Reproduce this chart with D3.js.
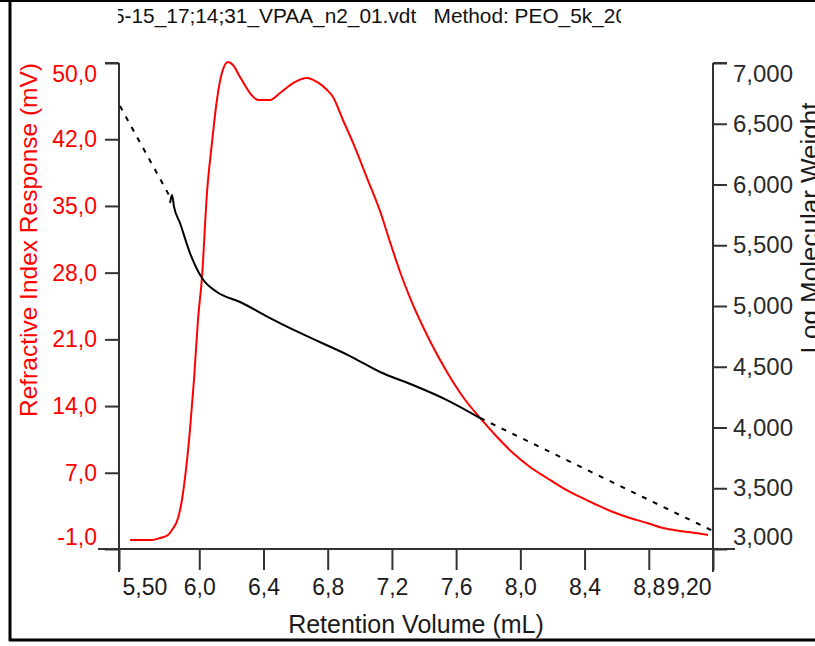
<!DOCTYPE html>
<html>
<head>
<meta charset="utf-8">
<script src="https://cdn.jsdelivr.net/npm/d3@7"></script>
<style>
  html, body { margin: 0; padding: 0; background: #fff; }
  svg { display: block; }
  text { font-family: "Liberation Sans", Arial, sans-serif; }
</style>
</head>
<body>
<div id="chart"></div>
<script>
// refractive index trace (mL, mV)
var riVolume = [5.569, 5.706, 5.755, 5.805, 5.830, 5.868, 5.892, 5.917, 5.942, 5.967, 5.992, 6.017, 6.048, 6.079, 6.110, 6.141,
	6.179, 6.210, 6.254, 6.316, 6.366, 6.441, 6.503, 6.584, 6.671, 6.733, 6.796, 6.833, 6.895, 6.958, 7.045, 7.126,
	7.188, 7.251, 7.313, 7.437, 7.543, 7.643, 7.749, 7.855, 7.954, 8.060, 8.166, 8.266, 8.372, 8.477, 8.577, 8.683,
	8.789, 8.889, 8.994, 9.088, 9.169];
var riResponse = [-0.06, -0.06, 0.15, 0.47, 0.99, 2.25, 4.14, 7.29, 11.49, 16.73, 23.03, 27.54, 36.36, 41.61, 46.12, 48.95,
	50.11, 49.79, 48.53, 46.85, 46.12, 46.12, 46.85, 47.90, 48.43, 48.01, 47.17, 46.43, 44.02, 41.61, 37.93, 34.47,
	31.22, 28.07, 25.34, 20.83, 17.58, 14.95, 12.75, 10.75, 9.07, 7.61, 6.45, 5.40, 4.46, 3.62, 2.88, 2.25,
	1.73, 1.20, 0.89, 0.68, 0.47];

// log molecular weight over the peak
var mwVolume = [5.818, 5.830, 5.843, 5.880, 5.942, 6.017, 6.110, 6.254, 6.441, 6.628, 6.939, 7.126, 7.331, 7.543, 7.749];
var mwLog = [5.848, 5.914, 5.815, 5.683, 5.436, 5.230, 5.115, 5.033, 4.901, 4.778, 4.588, 4.457, 4.350, 4.226, 4.078];

// calibration line outside the slice limits (dashed)
var calHighVolume = [5.506, 5.818];
var calHighLog = [6.646, 5.897];
var calLowVolume = [7.749, 9.200];
var calLowLog = [4.078, 3.148];

var riTicks = [-1, 7, 14, 21, 28, 35, 42, 50];
var riTickLabels = ["-1,0", "7,0", "14,0", "21,0", "28,0", "35,0", "42,0", "50,0"];
var mwTicks = [3, 3.5, 4, 4.5, 5, 5.5, 6, 6.5, 7];
var mwTickLabels = ["3,000", "3,500", "4,000", "4,500", "5,000", "5,500", "6,000", "6,500", "7,000"];
var volumeTicks = [5.5, 6.0, 6.4, 6.8, 7.2, 7.6, 8.0, 8.4, 8.8, 9.2];
var volumeTickLabels = ["5,50", "6,0", "6,4", "6,8", "7,2", "7,6", "8,0", "8,4", "8,8", "9,20"];

var titleText = "5-15_17;14;31_VPAA_n2_01.vdt   Method: PEO_5k_20";

var width = 815, height = 646;
var plotLeft = 119, plotRight = 713, plotTop = 63, plotBottom = 549;
var axisColor = "#333";
var fontSize = 23;

var svg = d3.select("#chart").append("svg")
	.attr("width", width)
	.attr("height", height);

var x = d3.scaleLinear().domain([5.5, 9.2]).range([plotLeft, plotRight]);
var yRi = d3.scaleLinear().domain([-1, 50]).range([plotBottom, plotTop]);
var yMw = d3.scaleLinear().domain([3, 7]).range([plotBottom, plotTop]);

// frame
svg.append("line").attr("x1", 0).attr("x2", width).attr("y1", 1).attr("y2", 1)
	.attr("stroke", "#000").attr("stroke-width", 2);
svg.append("line").attr("x1", 10).attr("x2", 10).attr("y1", 0).attr("y2", 641)
	.attr("stroke", "#000").attr("stroke-width", 3);
svg.append("line").attr("x1", 9).attr("x2", width).attr("y1", 640).attr("y2", 640)
	.attr("stroke", "#000").attr("stroke-width", 3);

// title, clipped like the original
svg.append("clipPath").attr("id", "titleClip")
	.append("rect").attr("x", 118).attr("y", 0).attr("width", 503).attr("height", 40);
svg.append("text")
	.attr("clip-path", "url(#titleClip)")
	.attr("x", 113)
	.attr("y", 23)
	.attr("font-size", 21)
	.attr("textLength", 514)
	.attr("lengthAdjust", "spacingAndGlyphs")
	.style("white-space", "pre")
	.attr("fill", "#111")
	.text(titleText);

// left axis
var gLeft = svg.append("g")
	.attr("transform", "translate(" + plotLeft + ",0)")
	.call(d3.axisLeft(yRi).tickValues(riTicks).tickSize(14).tickPadding(8)
		.tickFormat(function (d, i) { return riTickLabels[i]; }));
gLeft.select(".domain").remove();
gLeft.selectAll("line").attr("stroke", axisColor).attr("stroke-width", 2);
gLeft.selectAll("text").attr("fill", "#ff0000").attr("font-size", fontSize).attr("font-family", null);
gLeft.selectAll("text").filter(function (d) { return d == 50; }).attr("y", 11);
gLeft.selectAll("text").filter(function (d) { return d == -1; }).attr("y", -12);

// right axis
var gRight = svg.append("g")
	.attr("transform", "translate(" + plotRight + ",0)")
	.call(d3.axisRight(yMw).tickValues(mwTicks).tickSize(14).tickPadding(6)
		.tickFormat(function (d, i) { return mwTickLabels[i]; }));
gRight.select(".domain").remove();
gRight.selectAll("line").attr("stroke", axisColor).attr("stroke-width", 2);
gRight.selectAll("text").attr("fill", "#2a2a2a").attr("font-size", 24).attr("font-family", null);
gRight.selectAll("text").filter(function (d) { return d == 7; }).attr("y", 11);
gRight.selectAll("text").filter(function (d) { return d == 3; }).attr("y", -12);

// bottom axis
var gBottom = svg.append("g")
	.attr("transform", "translate(0," + plotBottom + ")")
	.call(d3.axisBottom(x).tickValues(volumeTicks).tickSize(21).tickPadding(9)
		.tickFormat(function (d, i) { return volumeTickLabels[i]; }));
gBottom.select(".domain").remove();
gBottom.selectAll("line").attr("stroke", axisColor).attr("stroke-width", 2);
gBottom.selectAll("text").attr("fill", "#1a1a1a").attr("font-size", fontSize).attr("font-family", null);
gBottom.selectAll("text").filter(function (d) { return d == 5.5; }).attr("text-anchor", "start").attr("x", 3);
gBottom.selectAll("text").filter(function (d) { return d == 9.2; }).attr("text-anchor", "end").attr("x", -2);

// axis lines
svg.append("line").attr("x1", plotLeft - 21).attr("x2", plotRight + 22).attr("y1", plotBottom).attr("y2", plotBottom)
	.attr("stroke", axisColor).attr("stroke-width", 2);
svg.append("line").attr("x1", plotLeft).attr("x2", plotLeft).attr("y1", plotTop).attr("y2", plotBottom + 23)
	.attr("stroke", axisColor).attr("stroke-width", 2);
svg.append("line").attr("x1", plotRight).attr("x2", plotRight).attr("y1", plotTop).attr("y2", plotBottom + 23)
	.attr("stroke", axisColor).attr("stroke-width", 2);
svg.append("line").attr("x1", plotLeft - 14).attr("x2", plotLeft).attr("y1", plotTop).attr("y2", plotTop)
	.attr("stroke", axisColor).attr("stroke-width", 2);
svg.append("line").attr("x1", plotRight).attr("x2", plotRight + 14).attr("y1", plotTop).attr("y2", plotTop)
	.attr("stroke", axisColor).attr("stroke-width", 2);

// curves
var riLine = d3.line()
	.curve(d3.curveMonotoneX)
	.x(function (d, i) { return x(riVolume[i]); })
	.y(function (d, i) { return yRi(riResponse[i]); });
svg.append("path")
	.datum(riVolume)
	.attr("d", riLine)
	.attr("fill", "none")
	.attr("stroke", "#ff0000")
	.attr("stroke-width", 2);

function mwPath(vols, logs, curve) {
	return d3.line()
		.curve(curve)
		.x(function (d, i) { return x(vols[i]); })
		.y(function (d, i) { return yMw(logs[i]); })(vols);
}
svg.append("path").attr("d", mwPath(calHighVolume, calHighLog, d3.curveLinear))
	.attr("fill", "none").attr("stroke", "#000").attr("stroke-width", 2).attr("stroke-dasharray", "5,7");
svg.append("path").attr("d", mwPath(calLowVolume, calLowLog, d3.curveLinear))
	.attr("fill", "none").attr("stroke", "#000").attr("stroke-width", 2).attr("stroke-dasharray", "5,7");
svg.append("path").attr("d", mwPath(mwVolume, mwLog, d3.curveMonotoneX))
	.attr("fill", "none").attr("stroke", "#000").attr("stroke-width", 2);

// axis titles
svg.append("text")
	.attr("transform", "translate(37,240) rotate(-90)")
	.attr("text-anchor", "middle")
	.attr("font-size", 24.5)
	.attr("fill", "#ff0000")
	.text("Refractive Index Response (mV)");

svg.append("text")
	.attr("x", 416)
	.attr("y", 633)
	.attr("text-anchor", "middle")
	.attr("font-size", 25)
	.attr("fill", "#1a1a1a")
	.text("Retention Volume (mL)");

svg.append("text")
	.attr("transform", "translate(819,228) rotate(-90)")
	.attr("text-anchor", "middle")
	.attr("font-size", 26)
	.attr("fill", "#1a1a1a")
	.text("Log Molecular Weight");
</script>
</body>
</html>
